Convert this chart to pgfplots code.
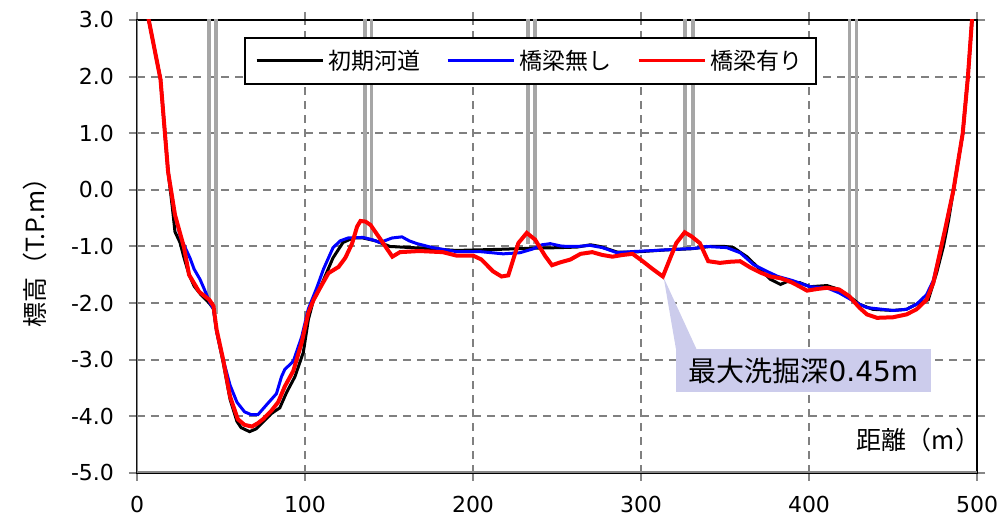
\documentclass[border=0pt]{standalone}
\usepackage{fontspec}
\setmainfont{DejaVu Sans}
\newfontfamily\cjk{Noto Sans CJK JP}
\usepackage{pgfplots}
\pgfplotsset{compat=1.18}
\definecolor{gridgray}{RGB}{128,128,128}
\definecolor{axgray}{RGB}{135,135,135}
\definecolor{piergray}{RGB}{166,166,166}
\definecolor{callout}{RGB}{204,204,236}
\begin{document}
\begin{tikzpicture}
\begin{axis}[
  scale only axis, width=420pt, height=226.5pt,
  xmin=0, xmax=500, ymin=-5, ymax=3,
  xtick={0,100,...,500}, ytick={-5,-4,...,3},
  grid=major,
  major grid style={gridgray, line width=1pt, dash pattern=on 4pt off 3pt},
  axis line style={black, line width=0.6pt},
  tick align=outside, major tick length=4pt,
  tick style={axgray, line width=1pt},
  /pgf/number format/assume math mode=true,
  ticklabel style={font=\fontsize{11}{13}\selectfont, text=black},
  yticklabel={\pgfmathprintnumber[fixed, fixed zerofill, precision=1]{\tick}},
  xticklabel style={yshift=-4pt},
  yticklabel style={xshift=-4pt},
  ylabel={\cjk 標高（T.P.m）},
  ylabel style={font=\fontsize{12.5}{14}\selectfont, at={(axis description cs:-0.1214,0.5)}, anchor=center},
  xlabel={\cjk 距離（m）},
  xlabel style={font=\fontsize{12.5}{14}\selectfont, at={(axis description cs:1.012,0.073)}, anchor=east},
  legend columns=3,
  legend style={at={(rel axis cs:0.4685,0.9095)}, anchor=center, draw=black, line width=0.75pt,
    font=\cjk\fontsize{11.5}{13}\selectfont, inner xsep=5pt, inner ysep=4pt,
    /tikz/every even column/.append style={column sep=11pt}},
  legend image code/.code={\draw[#1, line width=1.5pt] (0pt,0pt) -- (33pt,0pt);},
  clip=true,
]
% bridge piers
\addplot[piergray, line width=1.8pt, forget plot] coordinates {(43,3.2) (43,-2.0)};
\addplot[piergray, line width=1.8pt, forget plot] coordinates {(47.2,3.2) (47.2,-2.2)};
\addplot[piergray, line width=1.8pt, forget plot] coordinates {(135.7,3.2) (135.7,-0.85)};
\addplot[piergray, line width=1.8pt, forget plot] coordinates {(139.6,3.2) (139.6,-0.85)};
\addplot[piergray, line width=1.8pt, forget plot] coordinates {(232.7,3.2) (232.7,-0.95)};
\addplot[piergray, line width=1.8pt, forget plot] coordinates {(236.8,3.2) (236.8,-0.95)};
\addplot[piergray, line width=1.8pt, forget plot] coordinates {(326.3,3.2) (326.3,-1.0)};
\addplot[piergray, line width=1.8pt, forget plot] coordinates {(330.8,3.2) (330.8,-1.0)};
\addplot[piergray, line width=1.8pt, forget plot] coordinates {(424,3.2) (424,-1.95)};
\addplot[piergray, line width=1.8pt, forget plot] coordinates {(428.3,3.2) (428.3,-2.0)};
% initial channel
\addplot[black, line width=1.5pt] coordinates {
(3,3.6) (7,3.0) (14,1.95) (18.5,0.32) (21,-0.3) (22.6,-0.74) (25.6,-0.93) (28,-1.2) (31,-1.5)
(34,-1.7) (38,-1.85) (43,-2.0) (45.5,-2.1) (47.4,-2.5) (51.3,-3.05) (55.4,-3.7) (59.5,-4.09)
(62,-4.2) (67,-4.27) (71,-4.22) (75,-4.1) (80,-3.95) (85,-3.85) (89,-3.58) (94,-3.3) (99,-2.87)
(102,-2.29) (105,-1.95) (109,-1.73) (116.7,-1.2) (122.6,-0.93) (128.6,-0.85) (134.5,-0.85)
(142,-0.9) (150.6,-1.0) (170,-1.03) (190,-1.07) (216,-1.05) (236,-1.03) (252,-1.02) (262,-1.01)
(270,-0.97) (275.6,-1.0) (286,-1.1) (295,-1.1) (315,-1.06) (330,-1.04) (341,-1.0) (350,-1.0)
(355,-1.02) (363,-1.18) (371,-1.41) (377,-1.58) (383,-1.67) (387,-1.62) (394.6,-1.64)
(400.6,-1.71) (410.7,-1.69) (418,-1.76) (424,-1.88) (430,-2.02) (438,-2.11) (450,-2.13)
(458,-2.11) (464,-2.02) (471,-1.94) (476,-1.46) (480,-1.0) (483,-0.55) (486,0.0) (491.5,1.0)
(494.6,2.0) (497,3.0) (499,3.6)};
\addlegendentry{初期河道}
% without bridge
\addplot[blue, line width=1.5pt] coordinates {
(3,3.6) (7,3.0) (14,1.95) (18.5,0.32) (22.6,-0.44) (26,-0.85) (31.5,-1.2) (34,-1.4) (37.5,-1.58)
(40,-1.75) (43.5,-2.0) (45.5,-2.1) (47.4,-2.5) (51.3,-3.0) (55.4,-3.45) (59.5,-3.75) (64,-3.92)
(68,-3.97) (72,-3.97) (77,-3.8) (83,-3.6) (86,-3.3) (88,-3.17) (93,-3.03) (98,-2.6) (102,-2.1)
(107,-1.73) (111,-1.4) (116.7,-1.02) (121,-0.9) (125.6,-0.85) (134.5,-0.84) (140,-0.88)
(144.6,-0.93) (151.8,-0.85) (157.7,-0.83) (162,-0.9) (166.7,-0.95) (176,-1.02) (190,-1.09)
(204,-1.09) (218,-1.13) (228,-1.11) (236,-1.04) (241,-0.97) (246,-0.95) (252,-0.99) (256,-1.0)
(262,-1.0) (269.6,-0.98) (277,-1.02) (285.7,-1.11) (295,-1.09) (315,-1.06) (333,-1.03)
(339,-1.0) (351,-1.02) (359,-1.11) (367,-1.32) (375,-1.44) (381.5,-1.53) (390,-1.6)
(400.6,-1.71) (410.7,-1.73) (418,-1.82) (428.6,-2.0) (434.5,-2.08) (450,-2.13) (458,-2.11)
(464,-2.02) (470,-1.85) (474,-1.6) (478,-1.1) (481,-0.7) (486,0.0) (491.5,1.0) (494.6,2.0)
(497,3.0) (499,3.6)};
\addlegendentry{橋梁無し}
% with bridge
\addplot[red, line width=2pt] coordinates {
(3,3.6) (7,3.0) (14,1.95) (18.5,0.32) (22.6,-0.44) (28,-1.02) (31,-1.5) (37,-1.8) (43,-1.94)
(45.5,-2.05) (47.4,-2.47) (51.3,-3.0) (55.4,-3.65) (60,-4.05) (64,-4.15) (68.4,-4.18) (72,-4.12)
(75,-4.05) (80,-3.9) (84,-3.75) (88,-3.47) (93,-3.2) (98,-2.7) (102,-2.17) (105,-1.95)
(109,-1.73) (114,-1.47) (120,-1.36) (124,-1.2) (128,-0.95) (131,-0.65) (133,-0.55) (136,-0.56)
(139,-0.62) (145.8,-0.91) (152,-1.18) (156.5,-1.1) (168,-1.08) (182,-1.1) (190,-1.16) (200,-1.16)
(205,-1.23) (212,-1.44) (217,-1.53) (221,-1.51) (227,-0.94) (232,-0.76) (237,-0.88) (243,-1.17)
(247,-1.33) (252,-1.28) (258,-1.23) (264,-1.13) (271,-1.1) (277,-1.15) (283,-1.18) (289,-1.15)
(295,-1.13) (301,-1.26) (307,-1.4) (313,-1.53) (321,-0.94) (326,-0.75) (330,-0.82) (335,-0.94)
(340,-1.26) (347,-1.29) (353,-1.27) (359,-1.26) (365,-1.37) (371,-1.46) (377,-1.53) (383,-1.56)
(388.7,-1.62) (394,-1.7) (398.8,-1.78) (405,-1.75) (410.7,-1.73) (418,-1.76) (424,-1.88)
(430,-2.08) (434.5,-2.2) (440.5,-2.26) (450,-2.25) (458,-2.2) (464,-2.11) (470,-1.94)
(474,-1.64) (478,-1.1) (481,-0.7) (486,0.0) (491.5,1.0) (494.6,2.0) (497,3.0) (499,3.6)};
\addlegendentry{橋梁有り}
% callout
\fill[callout] (axis cs:313.5,-1.55) -- (axis cs:333,-2.81) -- (axis cs:320.8,-2.81) -- cycle;
\fill[callout] (axis cs:320.8,-2.81) rectangle (axis cs:472.6,-3.57);
\node[font=\fontsize{14}{16}\selectfont, anchor=center] at (axis cs:396.7,-3.19) {{\cjk 最大洗掘深}0.45m};
% left and bottom axis lines
\draw[axgray, line width=1.5pt] (rel axis cs:0,1) -- (rel axis cs:0,0) -- (rel axis cs:1,0);
\coordinate (bbSW) at (rel axis cs:0,0);
\coordinate (bbNE) at (rel axis cs:1,1);
\end{axis}
\pgfresetboundingbox
\path ([xshift=-68.5pt,yshift=-22.5pt]bbSW) rectangle ([xshift=13.5pt,yshift=10pt]bbNE);
\end{tikzpicture}
\end{document}
